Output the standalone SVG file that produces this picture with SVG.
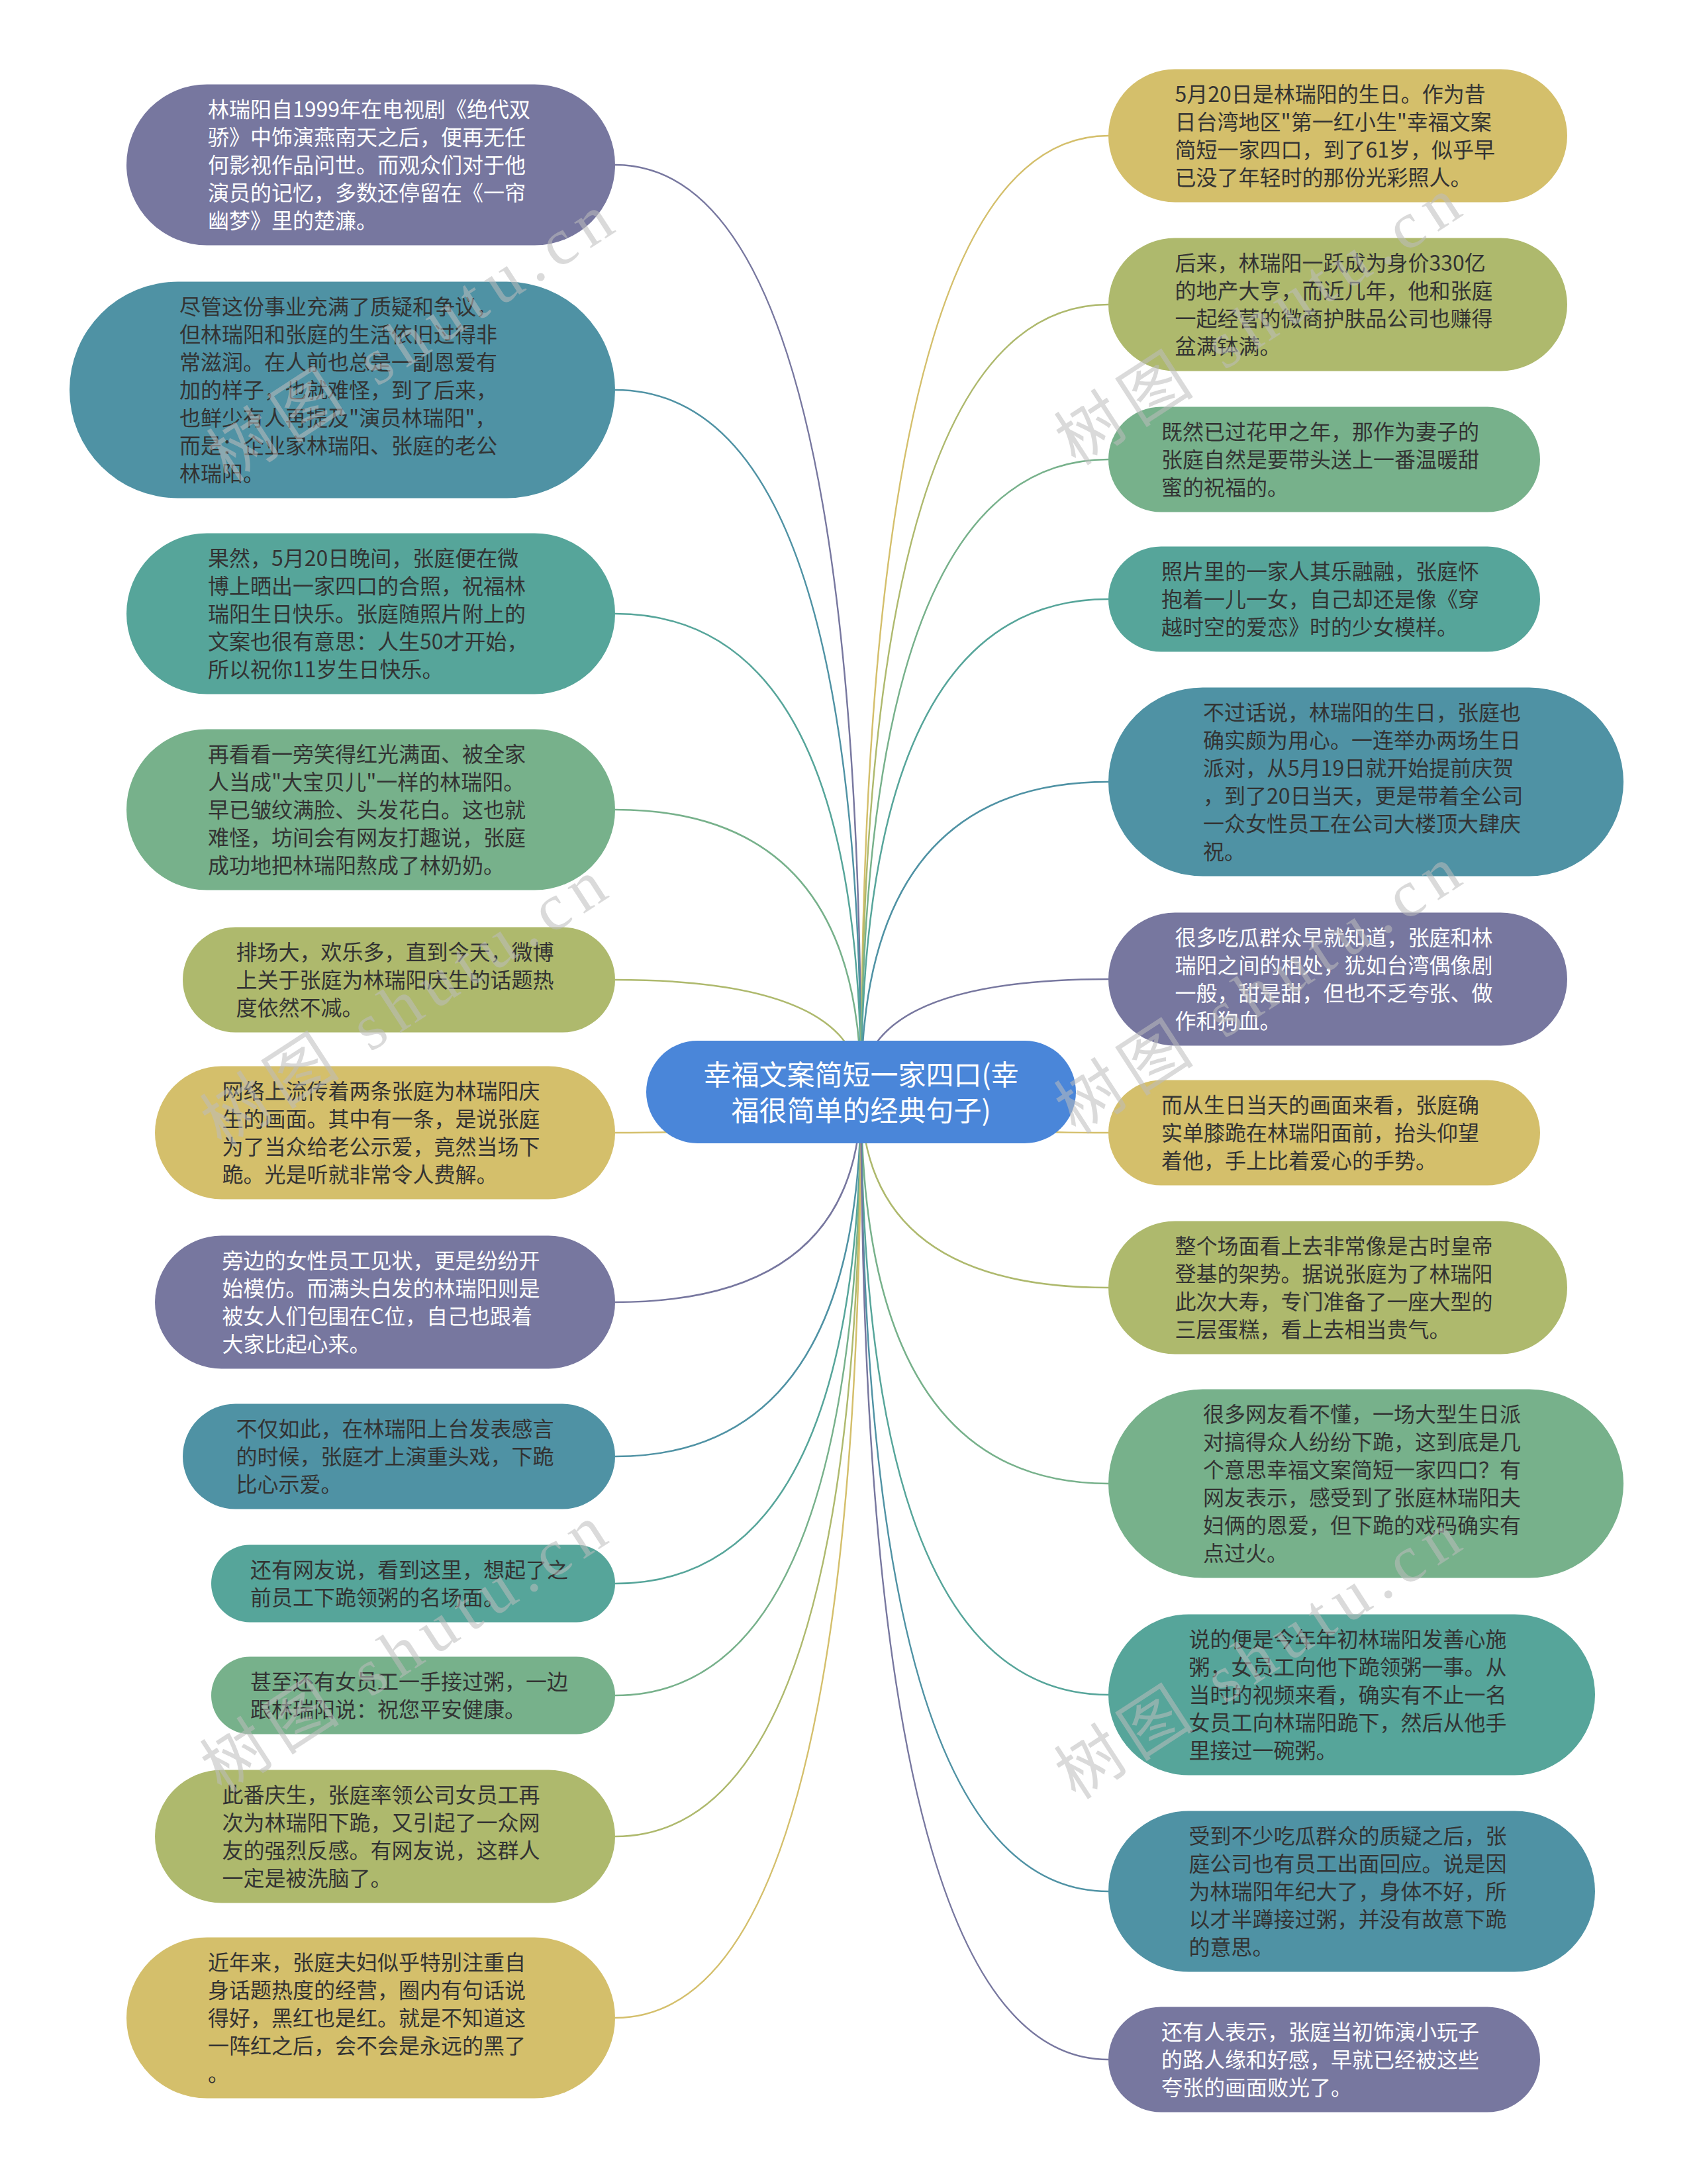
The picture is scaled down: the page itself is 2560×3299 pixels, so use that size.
<svg xmlns="http://www.w3.org/2000/svg" width="2560" height="3299" viewBox="0 0 2560 3299">
<style>
.t{font-family:"Noto Sans CJK SC","Noto Sans",sans-serif;font-size:32px;fill:#333333}
.w{fill:#ffffff}
.c{font-family:"Noto Sans CJK SC","Noto Sans",sans-serif;font-size:42px;fill:#ffffff;text-anchor:middle}
.lk{fill:none;stroke-width:2.5}
.purple{fill:#77779f}.dteal{fill:#4f92a4}.tgreen{fill:#56a59a}.green{fill:#77b18b}.olive{fill:#aeb96d}.yellow{fill:#d4bf6b}
.spurple{stroke:#77779f}.sdteal{stroke:#4f92a4}.stgreen{stroke:#56a59a}.sgreen{stroke:#77b18b}.solive{stroke:#aeb96d}.syellow{stroke:#d4bf6b}
.wm{font-family:"Liberation Serif","Noto Sans CJK SC",serif;font-size:100px;fill:#bdbdbd;opacity:0.55}
</style>
<rect width="2560" height="3299" fill="#ffffff"/>
<g id="connectors">
<path class="lk spurple" d="M1300.5,1649.5 Q1300.5,249 929,249"/>
<path class="lk sdteal" d="M1300.5,1649.5 Q1300.5,589 929,589"/>
<path class="lk stgreen" d="M1300.5,1649.5 Q1300.5,927 929,927"/>
<path class="lk sgreen" d="M1300.5,1649.5 Q1300.5,1223 929,1223"/>
<path class="lk solive" d="M1300.5,1649.5 Q1300.5,1480 929,1480"/>
<path class="lk syellow" d="M1300.5,1649.5 Q1300.5,1711 929,1711"/>
<path class="lk spurple" d="M1300.5,1649.5 Q1300.5,1967 929,1967"/>
<path class="lk sdteal" d="M1300.5,1649.5 Q1300.5,2200 929,2200"/>
<path class="lk stgreen" d="M1300.5,1649.5 Q1300.5,2392 929,2392"/>
<path class="lk sgreen" d="M1300.5,1649.5 Q1300.5,2561 929,2561"/>
<path class="lk solive" d="M1300.5,1649.5 Q1300.5,2774 929,2774"/>
<path class="lk syellow" d="M1300.5,1649.5 Q1300.5,3048 929,3048"/>
<path class="lk syellow" d="M1300.5,1649.5 Q1300.5,205 1674,205"/>
<path class="lk solive" d="M1300.5,1649.5 Q1300.5,460 1674,460"/>
<path class="lk sgreen" d="M1300.5,1649.5 Q1300.5,694 1674,694"/>
<path class="lk stgreen" d="M1300.5,1649.5 Q1300.5,905 1674,905"/>
<path class="lk sdteal" d="M1300.5,1649.5 Q1300.5,1181 1674,1181"/>
<path class="lk spurple" d="M1300.5,1649.5 Q1300.5,1479 1674,1479"/>
<path class="lk syellow" d="M1300.5,1649.5 Q1300.5,1711 1674,1711"/>
<path class="lk solive" d="M1300.5,1649.5 Q1300.5,1945 1674,1945"/>
<path class="lk sgreen" d="M1300.5,1649.5 Q1300.5,2241 1674,2241"/>
<path class="lk stgreen" d="M1300.5,1649.5 Q1300.5,2560 1674,2560"/>
<path class="lk sdteal" d="M1300.5,1649.5 Q1300.5,2857 1674,2857"/>
<path class="lk spurple" d="M1300.5,1649.5 Q1300.5,3111 1674,3111"/>
</g>
<g id="center">
<rect x="976" y="1572" width="649" height="155" rx="77.5" fill="#4a86d9"/>
<text class="c" x="1300.5" y="1639">幸福文案简短一家四口(幸</text>
<text class="c" x="1300.5" y="1693">福很简单的经典句子)</text>
</g>
<g id="L1">
<rect class="purple" x="191" y="127.5" width="738" height="243" rx="121.5"/>
<text class="t w" x="314"><tspan x="314" y="177">林瑞阳自1999年在电视剧《绝代双</tspan><tspan x="314" y="219">骄》中饰演燕南天之后，便再无任</tspan><tspan x="314" y="261">何影视作品问世。而观众们对于他</tspan><tspan x="314" y="303">演员的记忆，多数还停留在《一帘</tspan><tspan x="314" y="345">幽梦》里的楚濂。</tspan></text>
</g>
<g id="L2">
<rect class="dteal" x="105" y="425.5" width="824" height="327" rx="163.5"/>
<text class="t" x="271"><tspan x="271" y="475">尽管这份事业充满了质疑和争议，</tspan><tspan x="271" y="517">但林瑞阳和张庭的生活依旧过得非</tspan><tspan x="271" y="559">常滋润。在人前也总是一副恩爱有</tspan><tspan x="271" y="601">加的样子，也就难怪，到了后来，</tspan><tspan x="271" y="643">也鲜少有人再提及"演员林瑞阳"，</tspan><tspan x="271" y="685">而是：企业家林瑞阳、张庭的老公</tspan><tspan x="271" y="727">林瑞阳。</tspan></text>
</g>
<g id="L3">
<rect class="tgreen" x="191" y="805.5" width="738" height="243" rx="121.5"/>
<text class="t" x="314"><tspan x="314" y="855">果然，5月20日晚间，张庭便在微</tspan><tspan x="314" y="897">博上晒出一家四口的合照，祝福林</tspan><tspan x="314" y="939">瑞阳生日快乐。张庭随照片附上的</tspan><tspan x="314" y="981">文案也很有意思：人生50才开始，</tspan><tspan x="314" y="1023">所以祝你11岁生日快乐。</tspan></text>
</g>
<g id="L4">
<rect class="green" x="191" y="1101.5" width="738" height="243" rx="121.5"/>
<text class="t" x="314"><tspan x="314" y="1151">再看看一旁笑得红光满面、被全家</tspan><tspan x="314" y="1193">人当成"大宝贝儿"一样的林瑞阳。</tspan><tspan x="314" y="1235">早已皱纹满脸、头发花白。这也就</tspan><tspan x="314" y="1277">难怪，坊间会有网友打趣说，张庭</tspan><tspan x="314" y="1319">成功地把林瑞阳熬成了林奶奶。</tspan></text>
</g>
<g id="L5">
<rect class="olive" x="276" y="1400.5" width="653" height="159" rx="79.5"/>
<text class="t" x="356.5"><tspan x="356.5" y="1450">排场大，欢乐多，直到今天，微博</tspan><tspan x="356.5" y="1492">上关于张庭为林瑞阳庆生的话题热</tspan><tspan x="356.5" y="1534">度依然不减。</tspan></text>
</g>
<g id="L6">
<rect class="yellow" x="234" y="1610.5" width="695" height="201" rx="100.5"/>
<text class="t" x="335.5"><tspan x="335.5" y="1660">网络上流传着两条张庭为林瑞阳庆</tspan><tspan x="335.5" y="1702">生的画面。其中有一条，是说张庭</tspan><tspan x="335.5" y="1744">为了当众给老公示爱，竟然当场下</tspan><tspan x="335.5" y="1786">跪。光是听就非常令人费解。</tspan></text>
</g>
<g id="L7">
<rect class="purple" x="234" y="1866.5" width="695" height="201" rx="100.5"/>
<text class="t w" x="335.5"><tspan x="335.5" y="1916">旁边的女性员工见状，更是纷纷开</tspan><tspan x="335.5" y="1958">始模仿。而满头白发的林瑞阳则是</tspan><tspan x="335.5" y="2000">被女人们包围在C位，自己也跟着</tspan><tspan x="335.5" y="2042">大家比起心来。</tspan></text>
</g>
<g id="L8">
<rect class="dteal" x="276" y="2120.5" width="653" height="159" rx="79.5"/>
<text class="t" x="356.5"><tspan x="356.5" y="2170">不仅如此，在林瑞阳上台发表感言</tspan><tspan x="356.5" y="2212">的时候，张庭才上演重头戏，下跪</tspan><tspan x="356.5" y="2254">比心示爱。</tspan></text>
</g>
<g id="L9">
<rect class="tgreen" x="319" y="2333.5" width="610" height="117" rx="58.5"/>
<text class="t" x="378"><tspan x="378" y="2383">还有网友说，看到这里，想起了之</tspan><tspan x="378" y="2425">前员工下跪领粥的名场面。</tspan></text>
</g>
<g id="L10">
<rect class="green" x="319" y="2502.5" width="610" height="117" rx="58.5"/>
<text class="t" x="378"><tspan x="378" y="2552">甚至还有女员工一手接过粥，一边</tspan><tspan x="378" y="2594">跟林瑞阳说：祝您平安健康。</tspan></text>
</g>
<g id="L11">
<rect class="olive" x="234" y="2673.5" width="695" height="201" rx="100.5"/>
<text class="t" x="335.5"><tspan x="335.5" y="2723">此番庆生，张庭率领公司女员工再</tspan><tspan x="335.5" y="2765">次为林瑞阳下跪，又引起了一众网</tspan><tspan x="335.5" y="2807">友的强烈反感。有网友说，这群人</tspan><tspan x="335.5" y="2849">一定是被洗脑了。</tspan></text>
</g>
<g id="L12">
<rect class="yellow" x="191" y="2926.5" width="738" height="243" rx="121.5"/>
<text class="t" x="314"><tspan x="314" y="2976">近年来，张庭夫妇似乎特别注重自</tspan><tspan x="314" y="3018">身话题热度的经营，圈内有句话说</tspan><tspan x="314" y="3060">得好，黑红也是红。就是不知道这</tspan><tspan x="314" y="3102">一阵红之后，会不会是永远的黑了</tspan><tspan x="314" y="3144">。</tspan></text>
</g>
<g id="R1">
<rect class="yellow" x="1674" y="104.5" width="693" height="201" rx="100.5"/>
<text class="t" x="1774.5"><tspan x="1774.5" y="154">5月20日是林瑞阳的生日。作为昔</tspan><tspan x="1774.5" y="196">日台湾地区"第一红小生"幸福文案</tspan><tspan x="1774.5" y="238">简短一家四口，到了61岁，似乎早</tspan><tspan x="1774.5" y="280">已没了年轻时的那份光彩照人。</tspan></text>
</g>
<g id="R2">
<rect class="olive" x="1674" y="359.5" width="693" height="201" rx="100.5"/>
<text class="t" x="1774.5"><tspan x="1774.5" y="409">后来，林瑞阳一跃成为身价330亿</tspan><tspan x="1774.5" y="451">的地产大亨，而近几年，他和张庭</tspan><tspan x="1774.5" y="493">一起经营的微商护肤品公司也赚得</tspan><tspan x="1774.5" y="535">盆满钵满。</tspan></text>
</g>
<g id="R3">
<rect class="green" x="1674" y="614.5" width="652" height="159" rx="79.5"/>
<text class="t" x="1754"><tspan x="1754" y="664">既然已过花甲之年，那作为妻子的</tspan><tspan x="1754" y="706">张庭自然是要带头送上一番温暖甜</tspan><tspan x="1754" y="748">蜜的祝福的。</tspan></text>
</g>
<g id="R4">
<rect class="tgreen" x="1674" y="825.5" width="652" height="159" rx="79.5"/>
<text class="t" x="1754"><tspan x="1754" y="875">照片里的一家人其乐融融，张庭怀</tspan><tspan x="1754" y="917">抱着一儿一女，自己却还是像《穿</tspan><tspan x="1754" y="959">越时空的爱恋》时的少女模样。</tspan></text>
</g>
<g id="R5">
<rect class="dteal" x="1674" y="1038.5" width="778" height="285" rx="142.5"/>
<text class="t" x="1817"><tspan x="1817" y="1088">不过话说，林瑞阳的生日，张庭也</tspan><tspan x="1817" y="1130">确实颇为用心。一连举办两场生日</tspan><tspan x="1817" y="1172">派对，从5月19日就开始提前庆贺</tspan><tspan x="1817" y="1214">，到了20日当天，更是带着全公司</tspan><tspan x="1817" y="1256">一众女性员工在公司大楼顶大肆庆</tspan><tspan x="1817" y="1298">祝。</tspan></text>
</g>
<g id="R6">
<rect class="purple" x="1674" y="1378.5" width="693" height="201" rx="100.5"/>
<text class="t w" x="1774.5"><tspan x="1774.5" y="1428">很多吃瓜群众早就知道，张庭和林</tspan><tspan x="1774.5" y="1470">瑞阳之间的相处，犹如台湾偶像剧</tspan><tspan x="1774.5" y="1512">一般，甜是甜，但也不乏夸张、做</tspan><tspan x="1774.5" y="1554">作和狗血。</tspan></text>
</g>
<g id="R7">
<rect class="yellow" x="1674" y="1631.5" width="652" height="159" rx="79.5"/>
<text class="t" x="1754"><tspan x="1754" y="1681">而从生日当天的画面来看，张庭确</tspan><tspan x="1754" y="1723">实单膝跪在林瑞阳面前，抬头仰望</tspan><tspan x="1754" y="1765">着他，手上比着爱心的手势。</tspan></text>
</g>
<g id="R8">
<rect class="olive" x="1674" y="1844.5" width="693" height="201" rx="100.5"/>
<text class="t" x="1774.5"><tspan x="1774.5" y="1894">整个场面看上去非常像是古时皇帝</tspan><tspan x="1774.5" y="1936">登基的架势。据说张庭为了林瑞阳</tspan><tspan x="1774.5" y="1978">此次大寿，专门准备了一座大型的</tspan><tspan x="1774.5" y="2020">三层蛋糕，看上去相当贵气。</tspan></text>
</g>
<g id="R9">
<rect class="green" x="1674" y="2098.5" width="778" height="285" rx="142.5"/>
<text class="t" x="1817"><tspan x="1817" y="2148">很多网友看不懂，一场大型生日派</tspan><tspan x="1817" y="2190">对搞得众人纷纷下跪，这到底是几</tspan><tspan x="1817" y="2232">个意思幸福文案简短一家四口？有</tspan><tspan x="1817" y="2274">网友表示，感受到了张庭林瑞阳夫</tspan><tspan x="1817" y="2316">妇俩的恩爱，但下跪的戏码确实有</tspan><tspan x="1817" y="2358">点过火。</tspan></text>
</g>
<g id="R10">
<rect class="tgreen" x="1674" y="2438.5" width="735" height="243" rx="121.5"/>
<text class="t" x="1795.5"><tspan x="1795.5" y="2488">说的便是今年年初林瑞阳发善心施</tspan><tspan x="1795.5" y="2530">粥，女员工向他下跪领粥一事。从</tspan><tspan x="1795.5" y="2572">当时的视频来看，确实有不止一名</tspan><tspan x="1795.5" y="2614">女员工向林瑞阳跪下，然后从他手</tspan><tspan x="1795.5" y="2656">里接过一碗粥。</tspan></text>
</g>
<g id="R11">
<rect class="dteal" x="1674" y="2735.5" width="735" height="243" rx="121.5"/>
<text class="t" x="1795.5"><tspan x="1795.5" y="2785">受到不少吃瓜群众的质疑之后，张</tspan><tspan x="1795.5" y="2827">庭公司也有员工出面回应。说是因</tspan><tspan x="1795.5" y="2869">为林瑞阳年纪大了，身体不好，所</tspan><tspan x="1795.5" y="2911">以才半蹲接过粥，并没有故意下跪</tspan><tspan x="1795.5" y="2953">的意思。</tspan></text>
</g>
<g id="R12">
<rect class="purple" x="1674" y="3031.5" width="652" height="159" rx="79.5"/>
<text class="t w" x="1754"><tspan x="1754" y="3081">还有人表示，张庭当初饰演小玩子</tspan><tspan x="1754" y="3123">的路人缘和好感，早就已经被这些</tspan><tspan x="1754" y="3165">夸张的画面败光了。</tspan></text>
</g>
<g id="watermarks">
<text class="wm" transform="translate(345,730) rotate(-33)" textLength="700" lengthAdjust="spacing">树图 shutu.cn</text>
<text class="wm" transform="translate(1625,705) rotate(-33)" textLength="700" lengthAdjust="spacing">树图 shutu.cn</text>
<text class="wm" transform="translate(335,1735) rotate(-33)" textLength="700" lengthAdjust="spacing">树图 shutu.cn</text>
<text class="wm" transform="translate(1625,1715) rotate(-33)" textLength="700" lengthAdjust="spacing">树图 shutu.cn</text>
<text class="wm" transform="translate(335,2710) rotate(-33)" textLength="700" lengthAdjust="spacing">树图 shutu.cn</text>
<text class="wm" transform="translate(1625,2720) rotate(-33)" textLength="700" lengthAdjust="spacing">树图 shutu.cn</text>
</g>
</svg>
